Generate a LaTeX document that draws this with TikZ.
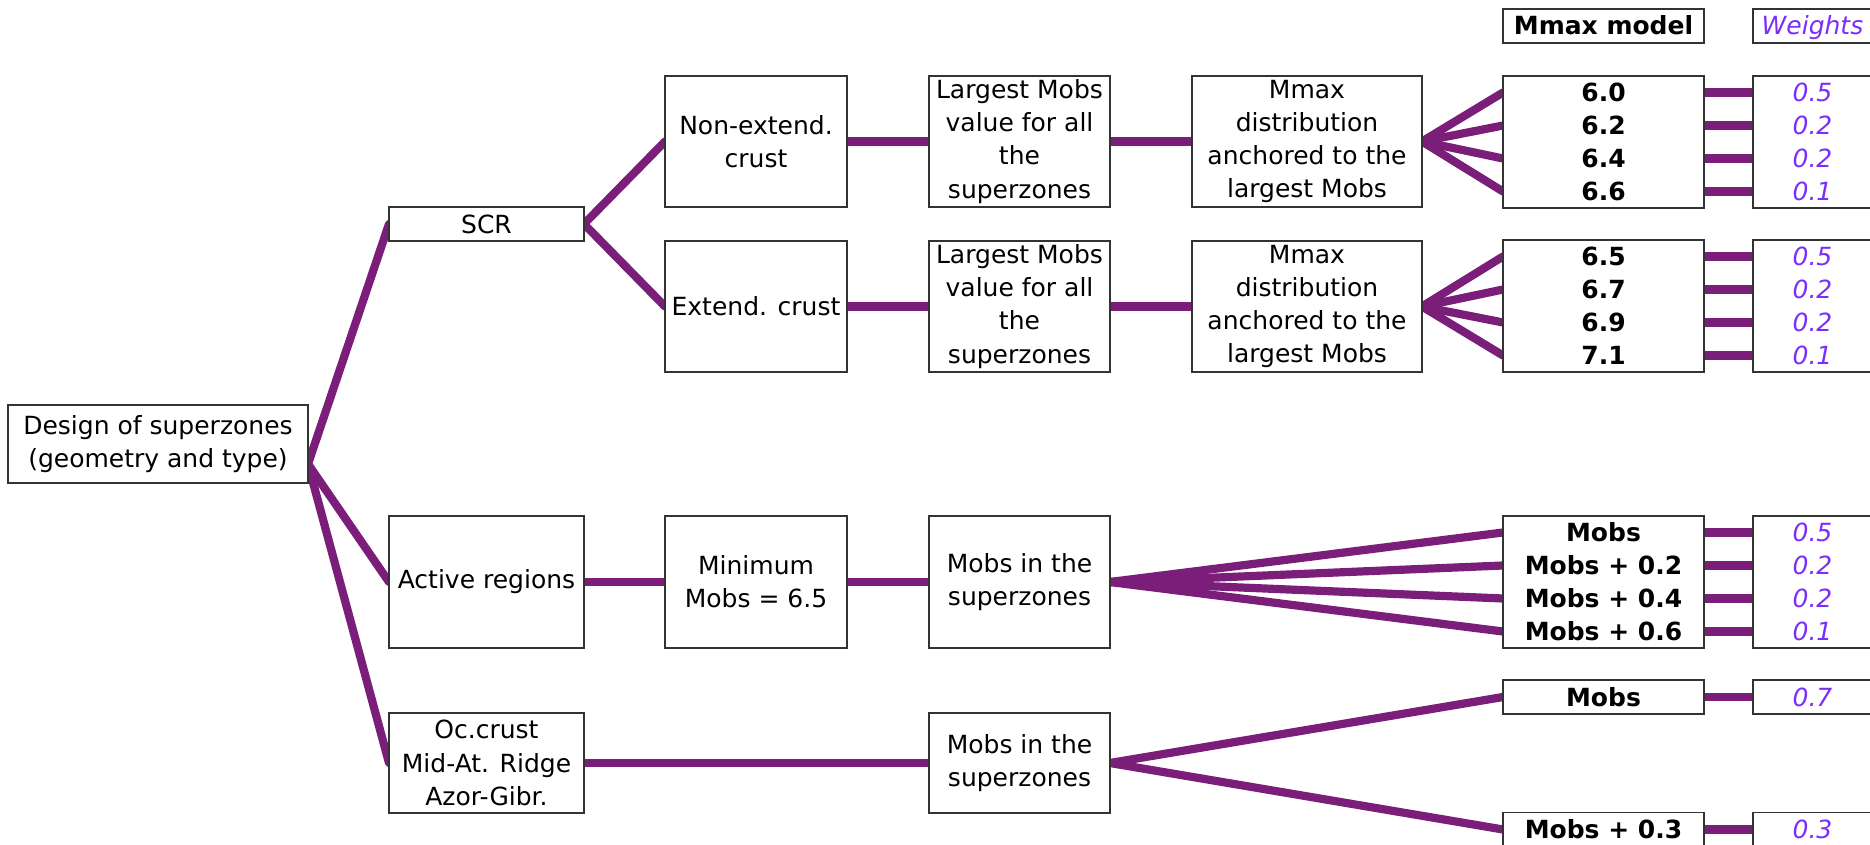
\documentclass[tikz,border=0pt]{standalone}
\usepackage{fontspec}
\setmainfont{DejaVu Sans}
\usepackage{tikz}
\usetikzlibrary{positioning, calc, fit, backgrounds}
\definecolor{cBranch}{HTML}{7B1E7A}
\definecolor{cWeight}{HTML}{7B2EFB}
\definecolor{cInk}{HTML}{333333}
\newcommand{\treefont}{\fontsize{12.5}{16.6}\selectfont}
\tikzset{
  stage/.style={rectangle, draw=cInk, line width=0.8pt, fill=white, align=center,
    inner sep=1pt, outer sep=0pt, font=\treefont},
  valrow/.style={rectangle, fill=white, inner sep=0pt, outer sep=0pt, minimum width=100.5pt,
    minimum height=16.5pt, text height=9pt, text depth=0pt, font=\treefont\bfseries},
  wtrow/.style={valrow, minimum width=59.5pt, font=\treefont\itshape, text=cWeight},
  hdr/.style={draw=cInk, line width=0.8pt, minimum height=17pt},
  frame/.style={rectangle, draw=cInk, line width=0.8pt, inner sep=0pt, outer sep=0pt},
  branch/.style={draw=cBranch, line width=4.1pt, line cap=round, line join=round},
}

\begin{document}
\begin{tikzpicture}[x=0.5pt, y=-0.5pt, node distance=41pt]
\useasboundingbox (0,0) rectangle (1870,845);
% root and zone types
\node[stage, minimum width=150pt, minimum height=39pt] (design) at (158,444) {Design of superzones\\(geometry and type)};
\coordinate (dfan) at ($(design.south east)+(0,-19)$);
\node[stage, minimum width=97.5pt, minimum height=17pt] (scr) at (486.5,224) {SCR};
\node[stage, minimum width=97.5pt, minimum height=66pt] (act) at (486.5,582) {Active regions};
\node[stage, minimum width=97.5pt, minimum height=50pt] (oc) at (486.5,763) {Oc.crust\\Mid-At. Ridge\\Azor-Gibr.};
% SCR branches
\node[stage, minimum width=91pt, minimum height=65.5pt] (nonext) at (756,141.5) {Non-extend.\\crust};
\node[stage, minimum width=90.5pt, minimum height=65.5pt, right=of nonext] (lg1) {Largest Mobs\\value for all\\the\\superzones};
\node[stage, minimum width=115pt, minimum height=65.5pt, right=of lg1] (mx1) {Mmax\\distribution\\anchored to the\\largest Mobs};
\node[stage, minimum width=91pt, minimum height=65.5pt, below=17pt of nonext] (ext) {Extend. crust};
\node[stage, minimum width=90.5pt, minimum height=65.5pt, right=of ext] (lg2) {Largest Mobs\\value for all\\the\\superzones};
\node[stage, minimum width=115pt, minimum height=65.5pt, right=of lg2] (mx2) {Mmax\\distribution\\anchored to the\\largest Mobs};
% active regions and oceanic crust
\node[stage, minimum width=91pt, minimum height=66pt, right=40.5pt of act] (minm) {Minimum\\Mobs = 6.5};
\node[stage, minimum width=90.5pt, minimum height=66pt, right=of minm] (sup1) {Mobs in the\\superzones};
\node[stage, minimum width=90.5pt, minimum height=50pt, below=32.5pt of sup1] (sup2) {Mobs in the\\superzones};
% column heads
\node[valrow, hdr] (hmod) at (1603.5,26) {Mmax model};
\node[wtrow, hdr] (hwt) at (1812.5,26) {Weights};
% Mmax values and weights, non-extended crust
\node[valrow] (m1a) at (1603.5,92.5) {6.0};
\node[valrow, below=0pt of m1a] (m1b) {6.2};
\node[valrow, below=0pt of m1b] (m1c) {6.4};
\node[valrow, below=0pt of m1c] (m1d) {6.6};
\node[frame, fit=(m1a)(m1d)] (mset1) {};
\node[wtrow] (w1a) at (1812.5,92.5) {0.5};
\node[wtrow, below=0pt of w1a] (w1b) {0.2};
\node[wtrow, below=0pt of w1b] (w1c) {0.2};
\node[wtrow, below=0pt of w1c] (w1d) {0.1};
\node[frame, fit=(w1a)(w1d)] (wset1) {};
% extended crust
\node[valrow] (m2a) at (1603.5,256.5) {6.5};
\node[valrow, below=0pt of m2a] (m2b) {6.7};
\node[valrow, below=0pt of m2b] (m2c) {6.9};
\node[valrow, below=0pt of m2c] (m2d) {7.1};
\node[frame, fit=(m2a)(m2d)] (mset2) {};
\node[wtrow] (w2a) at (1812.5,256.5) {0.5};
\node[wtrow, below=0pt of w2a] (w2b) {0.2};
\node[wtrow, below=0pt of w2b] (w2c) {0.2};
\node[wtrow, below=0pt of w2c] (w2d) {0.1};
\node[frame, fit=(w2a)(w2d)] (wset2) {};
% active regions
\node[valrow] (m3a) at (1603.5,532.5) {Mobs};
\node[valrow, below=0pt of m3a] (m3b) {Mobs + 0.2};
\node[valrow, below=0pt of m3b] (m3c) {Mobs + 0.4};
\node[valrow, below=0pt of m3c] (m3d) {Mobs + 0.6};
\node[frame, fit=(m3a)(m3d)] (mset3) {};
\node[wtrow] (w3a) at (1812.5,532.5) {0.5};
\node[wtrow, below=0pt of w3a] (w3b) {0.2};
\node[wtrow, below=0pt of w3b] (w3c) {0.2};
\node[wtrow, below=0pt of w3c] (w3d) {0.1};
\node[frame, fit=(w3a)(w3d)] (wset3) {};
% oceanic crust
\node[valrow, hdr] (m4a) at (1603.5,697) {Mobs};
\node[valrow, hdr] (m4b) at (1603.5,829.5) {Mobs + 0.3};
\node[wtrow, hdr] (w4a) at (1812.5,697) {0.7};
\node[wtrow, hdr] (w4b) at (1812.5,829.5) {0.3};

\begin{pgfonlayer}{background}
\draw[branch] (dfan) -- (scr.west);
\draw[branch] (dfan) -- (act.west);
\draw[branch] (dfan) -- (oc.west);
\draw[branch] (scr.east) -- (nonext.west);
\draw[branch] (scr.east) -- (ext.west);
\draw[branch] (nonext) -- (lg1); \draw[branch] (lg1) -- (mx1);
\draw[branch] (ext) -- (lg2); \draw[branch] (lg2) -- (mx2);
\draw[branch] (act) -- (minm); \draw[branch] (minm) -- (sup1);
\draw[branch] (oc) -- (sup2);
% fans into the value columns
\draw[branch] (mx1.east) -- (m1a.west); \draw[branch] (mx1.east) -- (m1b.west);
\draw[branch] (mx1.east) -- (m1c.west); \draw[branch] (mx1.east) -- (m1d.west);
\draw[branch] (mx2.east) -- (m2a.west); \draw[branch] (mx2.east) -- (m2b.west);
\draw[branch] (mx2.east) -- (m2c.west); \draw[branch] (mx2.east) -- (m2d.west);
\draw[branch] (sup1.east) -- (m3a.west); \draw[branch] (sup1.east) -- (m3b.west);
\draw[branch] (sup1.east) -- (m3c.west); \draw[branch] (sup1.east) -- (m3d.west);
\draw[branch] (sup2.east) -- (m4a.west); \draw[branch] (sup2.east) -- (m4b.west);
% weights
\draw[branch] (m1a) -- (w1a); \draw[branch] (m1b) -- (w1b); \draw[branch] (m1c) -- (w1c); \draw[branch] (m1d) -- (w1d);
\draw[branch] (m2a) -- (w2a); \draw[branch] (m2b) -- (w2b); \draw[branch] (m2c) -- (w2c); \draw[branch] (m2d) -- (w2d);
\draw[branch] (m3a) -- (w3a); \draw[branch] (m3b) -- (w3b); \draw[branch] (m3c) -- (w3c); \draw[branch] (m3d) -- (w3d);
\draw[branch] (m4a) -- (w4a); \draw[branch] (m4b) -- (w4b);
\end{pgfonlayer}
\end{tikzpicture}
\end{document}
